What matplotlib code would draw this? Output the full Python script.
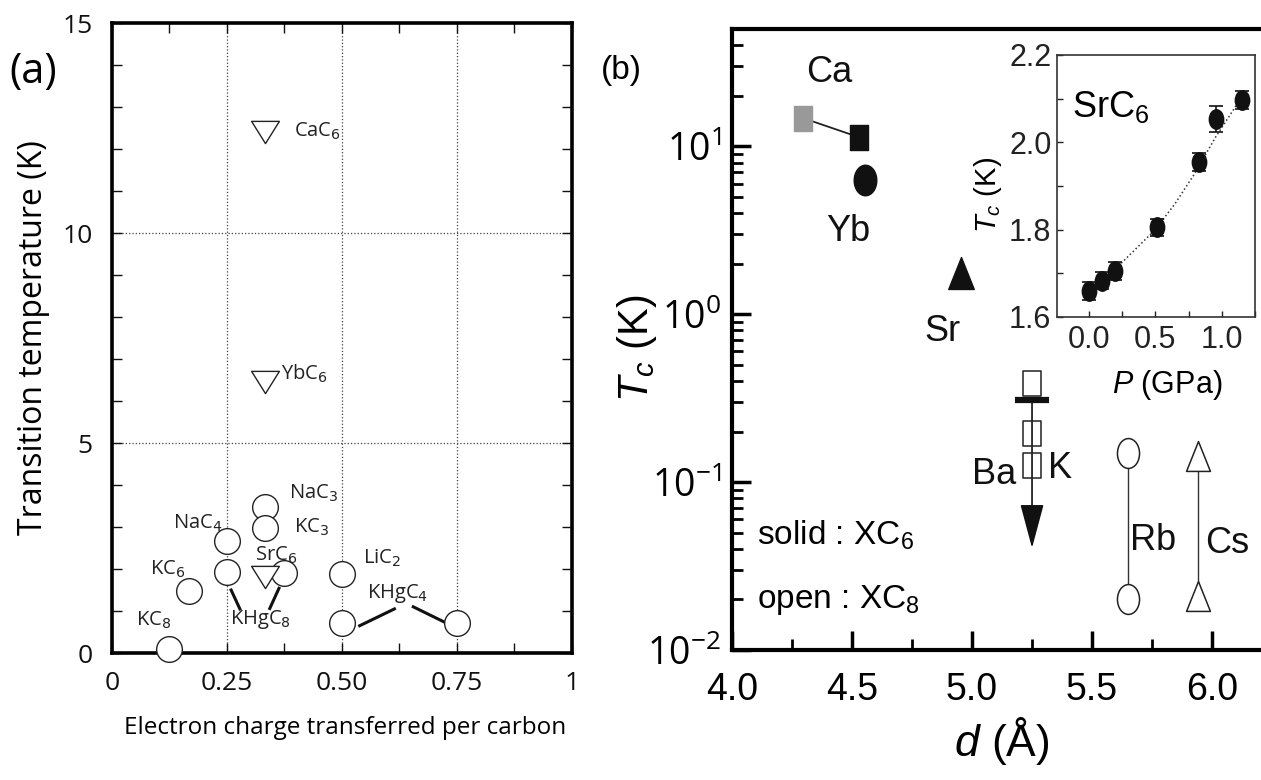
import numpy as np
import matplotlib
matplotlib.use("Agg")
import matplotlib.pyplot as plt
from matplotlib import font_manager
from matplotlib.path import Path
from matplotlib.ticker import MultipleLocator
import matplotlib.transforms as mtrans

_names = {f.name for f in font_manager.fontManager.ttflist}
ARIAL = 'Liberation Sans Narrow' if 'Liberation Sans Narrow' in _names else 'Liberation Sans'

plt.rcParams['font.family'] = ['Open Sans', 'DejaVu Sans']
plt.rcParams['axes.unicode_minus'] = False
plt.rcParams['mathtext.fontset'] = 'custom'
plt.rcParams['mathtext.rm'] = ARIAL
plt.rcParams['mathtext.it'] = ARIAL + ':italic'
plt.rcParams['mathtext.bf'] = ARIAL + ':bold'
NARROW = [ARIAL, 'DejaVu Sans']

# ---- panel (a) data ----
tri_names = ['CaC$_6$', 'YbC$_6$', 'SrC$_6$']
tri_x = [0.333, 0.333, 0.333]
tri_y = [12.4, 6.45, 1.80]

circ_names = ['NaC$_3$', 'KC$_3$', 'NaC$_4$', 'KHgC$_8$', '', 'KC$_6$', 'KC$_8$',
              'LiC$_2$', 'KHgC$_4$', '']
circ_x = [0.333, 0.333, 0.25, 0.25, 0.375, 0.167, 0.125, 0.5, 0.5, 0.75]
circ_y = [3.48, 2.97, 2.67, 1.92, 1.90, 1.48, 0.10, 1.87, 0.71, 0.71]

# leader lines for the KHgC8 / KHgC4 labels
lead_x = [(0.259, 0.278), (0.363, 0.343), (0.5385, 0.614), (0.655, 0.7275)]
lead_y = [(1.50, 1.05), (1.54, 1.06), (0.65, 1.05), (1.10, 0.71)]

# ---- panel (b) data ----
ca_d = [4.297, 4.531]
ca_tc = [14.7, 11.3]
yb_d, yb_tc = 4.554, 6.31
sr_d, sr_tc = 4.953, 1.75
ba_d, ba_tc, ba_limit, ba_arrow_end = 5.25, 0.39, 0.308, 0.0405
k_tc = [0.196, 0.126]
rb_d, rb_tc = 5.65, [0.149, 0.0201]
cs_d, cs_tc = 5.94, [0.143, 0.021]

# inset: SrC6 under pressure
p_gpa = [0.0, 0.10, 0.195, 0.51, 0.83, 0.96, 1.155]
tc_p = [1.66, 1.683, 1.705, 1.805, 1.955, 2.053, 2.097]
tc_err = [0.02, 0.02, 0.02, 0.02, 0.02, 0.03, 0.02]
p_fit = [0.2, 0.35, 0.5, 0.65, 0.8, 0.95, 1.1, 1.16]
tc_fit = [1.71, 1.755, 1.80, 1.86, 1.93, 2.01, 2.08, 2.11]


def squeeze(verts, sx=1.0, sy=1.0):
    p = Path(verts + [verts[0]], closed=True)
    return p.transformed(mtrans.Affine2D().scale(sx, sy))


ell = Path.unit_circle().transformed(mtrans.Affine2D().scale(0.74, 1))
rect = squeeze([(-1, -1), (1, -1), (1, 1), (-1, 1)], 0.74)
tri_up = squeeze([(0, 1), (-1, -1), (1, -1)], 0.8)
tri_dn = squeeze([(0, -1), (-1, 1), (1, 1)], 1, 0.8)

fig = plt.figure(figsize=(12.61, 7.8), dpi=100)

# ================= panel (a) =================
ax = fig.add_axes([0.0888, 0.1628, 0.3648, 0.8077])
for xs, ys in zip(lead_x, lead_y):
    ax.plot(xs, ys, color='#111111', lw=2.2, zorder=2)
ax.plot(circ_x, circ_y, ls='none', marker='o', ms=18.5, mfc='white',
        mec='#222222', mew=1.0, zorder=3, clip_on=False)
ax.plot(tri_x, tri_y, ls='none', marker=tri_dn, ms=20, mfc='white',
        mec='#222222', mew=1.0, zorder=3)

tri_off = [(21, -3), (11.5, 1.5), (-7, 12)]
circ_off = [(17, 6), (21, -3), (-39, 9), (2, -37), None, (-28, 11.5), (-24, 17),
            (15, 8), (18, 18), None]
for name, x, y, off in zip(tri_names + circ_names, tri_x + circ_x, tri_y + circ_y,
                           tri_off + circ_off):
    if not name:
        continue
    ax.annotate(name, (x, y), xytext=off, textcoords='offset points',
                fontsize=14.5, color='#222222', va='baseline', ha='left',
                math_fontfamily='dejavusans', zorder=4)

ax.set_xlim(0, 1)
ax.set_ylim(0, 15)
ax.set_xticks([0, 0.25, 0.5, 0.75, 1])
ax.set_xticklabels(['0', '0.25', '0.50', '0.75', '1'])
ax.set_yticks([0, 5, 10, 15])
ax.xaxis.set_minor_locator(MultipleLocator(0.125))
ax.yaxis.set_minor_locator(MultipleLocator(1))
ax.tick_params(which='both', direction='in', top=True, right=True,
               length=7, width=1, labelsize=19, colors='#111111')
ax.tick_params(axis='x', which='major', pad=13)
ax.tick_params(axis='y', which='major', pad=14)
ax.grid(True, which='major', ls=':', lw=0.9, color='0.25')
for s in ax.spines.values():
    s.set_linewidth(2.6)
ax.set_xlabel('Electron charge transferred per carbon', fontsize=17.5)
ax.set_ylabel('Transition temperature (K)', fontsize=23)
ax.xaxis.set_label_coords(0.506, -0.10)
ax.yaxis.set_label_coords(-0.135, 0.5)
fig.text(0.026, 0.908, '(a)', fontsize=30, ha='center', va='center')

# ================= panel (b) =================
bx = fig.add_axes([0.5805, 0.1667, 0.4195, 0.7962])
bx.set_yscale('log')
bx.set_xlim(4.0, 6.204)
bx.set_ylim(0.01, 50)

bx.plot(ca_d, ca_tc, color='#222222', lw=1.3, zorder=2)
bx.plot(ca_d[0], ca_tc[0], ls='none', marker=rect, ms=18, mfc='#999999',
        mec='#999999', zorder=3)
bx.plot(ca_d[1], ca_tc[1], ls='none', marker=rect, ms=18, mfc='#111111',
        mec='#111111', zorder=3)
bx.plot(yb_d, yb_tc, ls='none', marker=ell, ms=22, mfc='#111111',
        mec='#111111', zorder=3)
bx.plot(sr_d, sr_tc, ls='none', marker=tri_up, ms=23, mfc='#111111',
        mec='#111111', zorder=3)

# Ba / K
bx.annotate('', xy=(ba_d, ba_arrow_end), xytext=(ba_d, ba_limit),
            arrowprops=dict(arrowstyle='-|>,head_length=2.8,head_width=0.75',
                            color='#111111', lw=1.2, shrinkA=0, shrinkB=0),
            zorder=2)
bx.plot(ba_d, ba_limit, ls='none', marker='_', ms=24, mew=4.5,
        color='#111111', zorder=3)
bx.plot([ba_d], [ba_tc], ls='none', marker=rect, ms=18, mfc='white',
        mec='#222222', mew=1.1, zorder=3)
bx.plot([ba_d, ba_d], k_tc, ls='none', marker=rect, ms=18, mfc='none',
        mec='#222222', mew=1.1, zorder=3)

# Rb, Cs
bx.plot([rb_d, rb_d], rb_tc, color='#333333', lw=1.0, marker=ell, ms=21.5,
        mfc='white', mec='#222222', mew=1.1, zorder=3)
bx.plot([cs_d, cs_d], cs_tc, color='#333333', lw=1.0, marker=tri_up, ms=21.5,
        mfc='white', mec='#222222', mew=1.1, zorder=3)

lab_kw = dict(textcoords='offset points', ha='center', va='center',
              fontsize=26, family=NARROW, color='#111111')
bx.annotate('Ca', (ca_d[1], ca_tc[1]), xytext=(-22, 47), **lab_kw)
bx.annotate('Yb', (yb_d, yb_tc), xytext=(-12, -37), **lab_kw)
bx.annotate('Sr', (sr_d, sr_tc), xytext=(-13.5, -42), **lab_kw)
bx.annotate('Ba', (ba_d, k_tc[1]), xytext=(-27, -6.5), **lab_kw)
bx.annotate('K', (ba_d, k_tc[1]), xytext=(20, -2), **lab_kw)
bx.annotate('Rb', (rb_d, rb_tc[1]), xytext=(18, 42), **lab_kw)
bx.annotate('Cs', (cs_d, cs_tc[1]), xytext=(21.6, 37.4), **lab_kw)

bx.text(0.047, 0.169, 'solid : XC$_6$', transform=bx.transAxes, fontsize=24,
        family=NARROW, va='baseline', ha='left')
bx.text(0.047, 0.0676, 'open : XC$_8$', transform=bx.transAxes, fontsize=24,
        family=NARROW, va='baseline', ha='left')

bx.set_xticks([4.0, 4.5, 5.0, 5.5, 6.0])
bx.set_xticklabels(['4.0', '4.5', '5.0', '5.5', '6.0'], family=NARROW)
bx.xaxis.set_minor_locator(MultipleLocator(0.25))
bx.tick_params(which='major', direction='in', length=14, width=2.5,
               labelsize=27, top=False, right=False)
bx.tick_params(which='minor', direction='in', length=8, width=2,
               top=False, right=False)
bx.tick_params(axis='x', which='major', pad=16)
bx.tick_params(axis='y', which='major', pad=8)
for side in ['left', 'bottom', 'top']:
    bx.spines[side].set_linewidth(3)
bx.spines['right'].set_visible(False)
bx.set_xlabel('$d$ (Å)', fontsize=32, family=NARROW)
bx.set_ylabel('$T_c$ (K)', fontsize=30, family=NARROW)
bx.xaxis.set_label_coords(0.51, -0.105)
bx.yaxis.set_label_coords(-0.138, 0.486)
fig.text(0.4925, 0.910, '(b)', fontsize=24, ha='center', va='center',
         family=NARROW)

# ================= inset =================
ins = fig.add_axes([0.8382, 0.5936, 0.157, 0.336])
ins.plot(p_fit, tc_fit, ls=':', lw=1.1, color='#333333', zorder=2)
ins.errorbar(p_gpa, tc_p, yerr=tc_err, ls='none', marker=ell, ms=14,
             mfc='#111111', mec='#111111', ecolor='#111111', elinewidth=1.2,
             capsize=5, capthick=1.2, zorder=3)
ins.set_xlim(-0.24, 1.25)
ins.set_ylim(1.6, 2.2)
ins.set_xticks([0.0, 0.5, 1.0])
ins.set_xticklabels(['0.0', '0.5', '1.0'], family=NARROW)
ins.set_yticks([1.6, 1.8, 2.0, 2.2])
ins.set_yticklabels(['1.6', '1.8', '2.0', '2.2'], family=NARROW)
ins.xaxis.set_minor_locator(MultipleLocator(0.25))
ins.yaxis.set_minor_locator(MultipleLocator(0.1))
ins.tick_params(which='both', direction='in', length=4, width=1,
                labelsize=22, top=False, right=False, colors='#222222')
ins.tick_params(axis='x', which='major', pad=6)
ins.tick_params(axis='y', which='major', pad=4)
for s in ins.spines.values():
    s.set_linewidth(1.2)
    s.set_color('#333333')
ins.text(0.076, 0.763, 'SrC$_6$', transform=ins.transAxes, fontsize=26,
         family=NARROW, va='baseline', ha='left')
ins.set_xlabel('$P$ (GPa)', fontsize=22, family=NARROW)
ins.set_ylabel('$T_c$ (K)', fontsize=21, family=NARROW)
ins.xaxis.set_label_coords(0.556, -0.195)
ins.yaxis.set_label_coords(-0.27, 0.466)

fig.savefig('out.png', dpi=100)
